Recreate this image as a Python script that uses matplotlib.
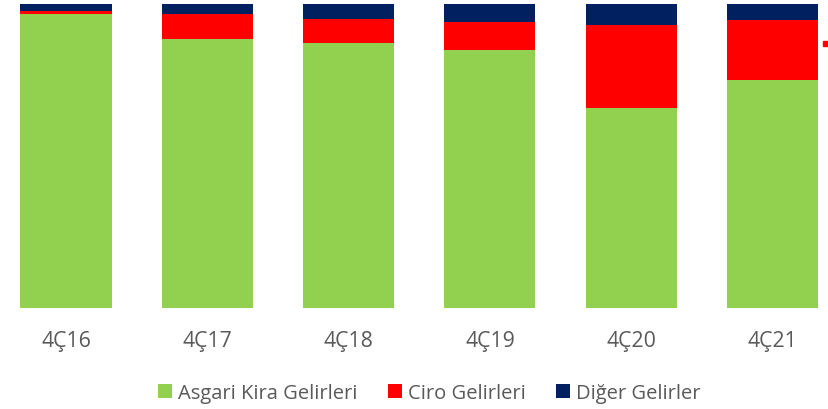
import matplotlib
matplotlib.use("Agg")
import matplotlib.pyplot as plt
from matplotlib.patches import Rectangle
import numpy as np

categories = ["4Ç16", "4Ç17", "4Ç18", "4Ç19", "4Ç20", "4Ç21"]
asgari = [96.6, 88.4, 87.1, 84.9, 65.8, 75.1]
ciro = [1.1, 8.4, 8.1, 9.1, 27.4, 19.5]
diger = [2.3, 3.2, 4.8, 6.0, 6.8, 5.4]
series_names = ["Asgari Kira Gelirleri", "Ciro Gelirleri", "Diğer Gelirler"]
colors = ["#92D050", "#FF0000", "#002060"]

plt.rcParams['font.family'] = ['Open Sans', 'DejaVu Sans']

fig = plt.figure(figsize=(8.29, 4.10), dpi=100)
ax = fig.add_axes([0, 101/410, 1, 304/410])

x = np.arange(len(categories))
w = 0.645
b1 = np.array(asgari)
b2 = b1 + np.array(ciro)
ax.bar(x, asgari, w, color=colors[0], linewidth=0, label=series_names[0])
ax.bar(x, ciro, w, bottom=b1, color=colors[1], linewidth=0, label=series_names[1])
ax.bar(x, diger, w, bottom=b2, color=colors[2], linewidth=0, label=series_names[2])

ax.set_xlim(-66/141.3, (829-66)/141.3)
ax.set_ylim(0, 100)
ax.set_yticks([])
ax.set_xticks(x)
ax.set_xticklabels(categories, fontsize=15.3, color="#595959")
ax.tick_params(axis='x', length=0, pad=16)
for s in ax.spines.values():
    s.set_visible(False)

leg = fig.legend(loc="center", bbox_to_anchor=(0.518, 16/410), ncol=3, frameon=False,
                 fontsize=14.5, handlelength=0.7, handleheight=0.7, handletextpad=0.3,
                 columnspacing=1.5, labelcolor="#595959")

# small clipped marker at right edge
fig.patches.append(Rectangle((823/829, (410-47)/410), 6/829, 5/410,
                             transform=fig.transFigure, color="#FF0000", figure=fig))

fig.savefig("out.png", dpi=100)
